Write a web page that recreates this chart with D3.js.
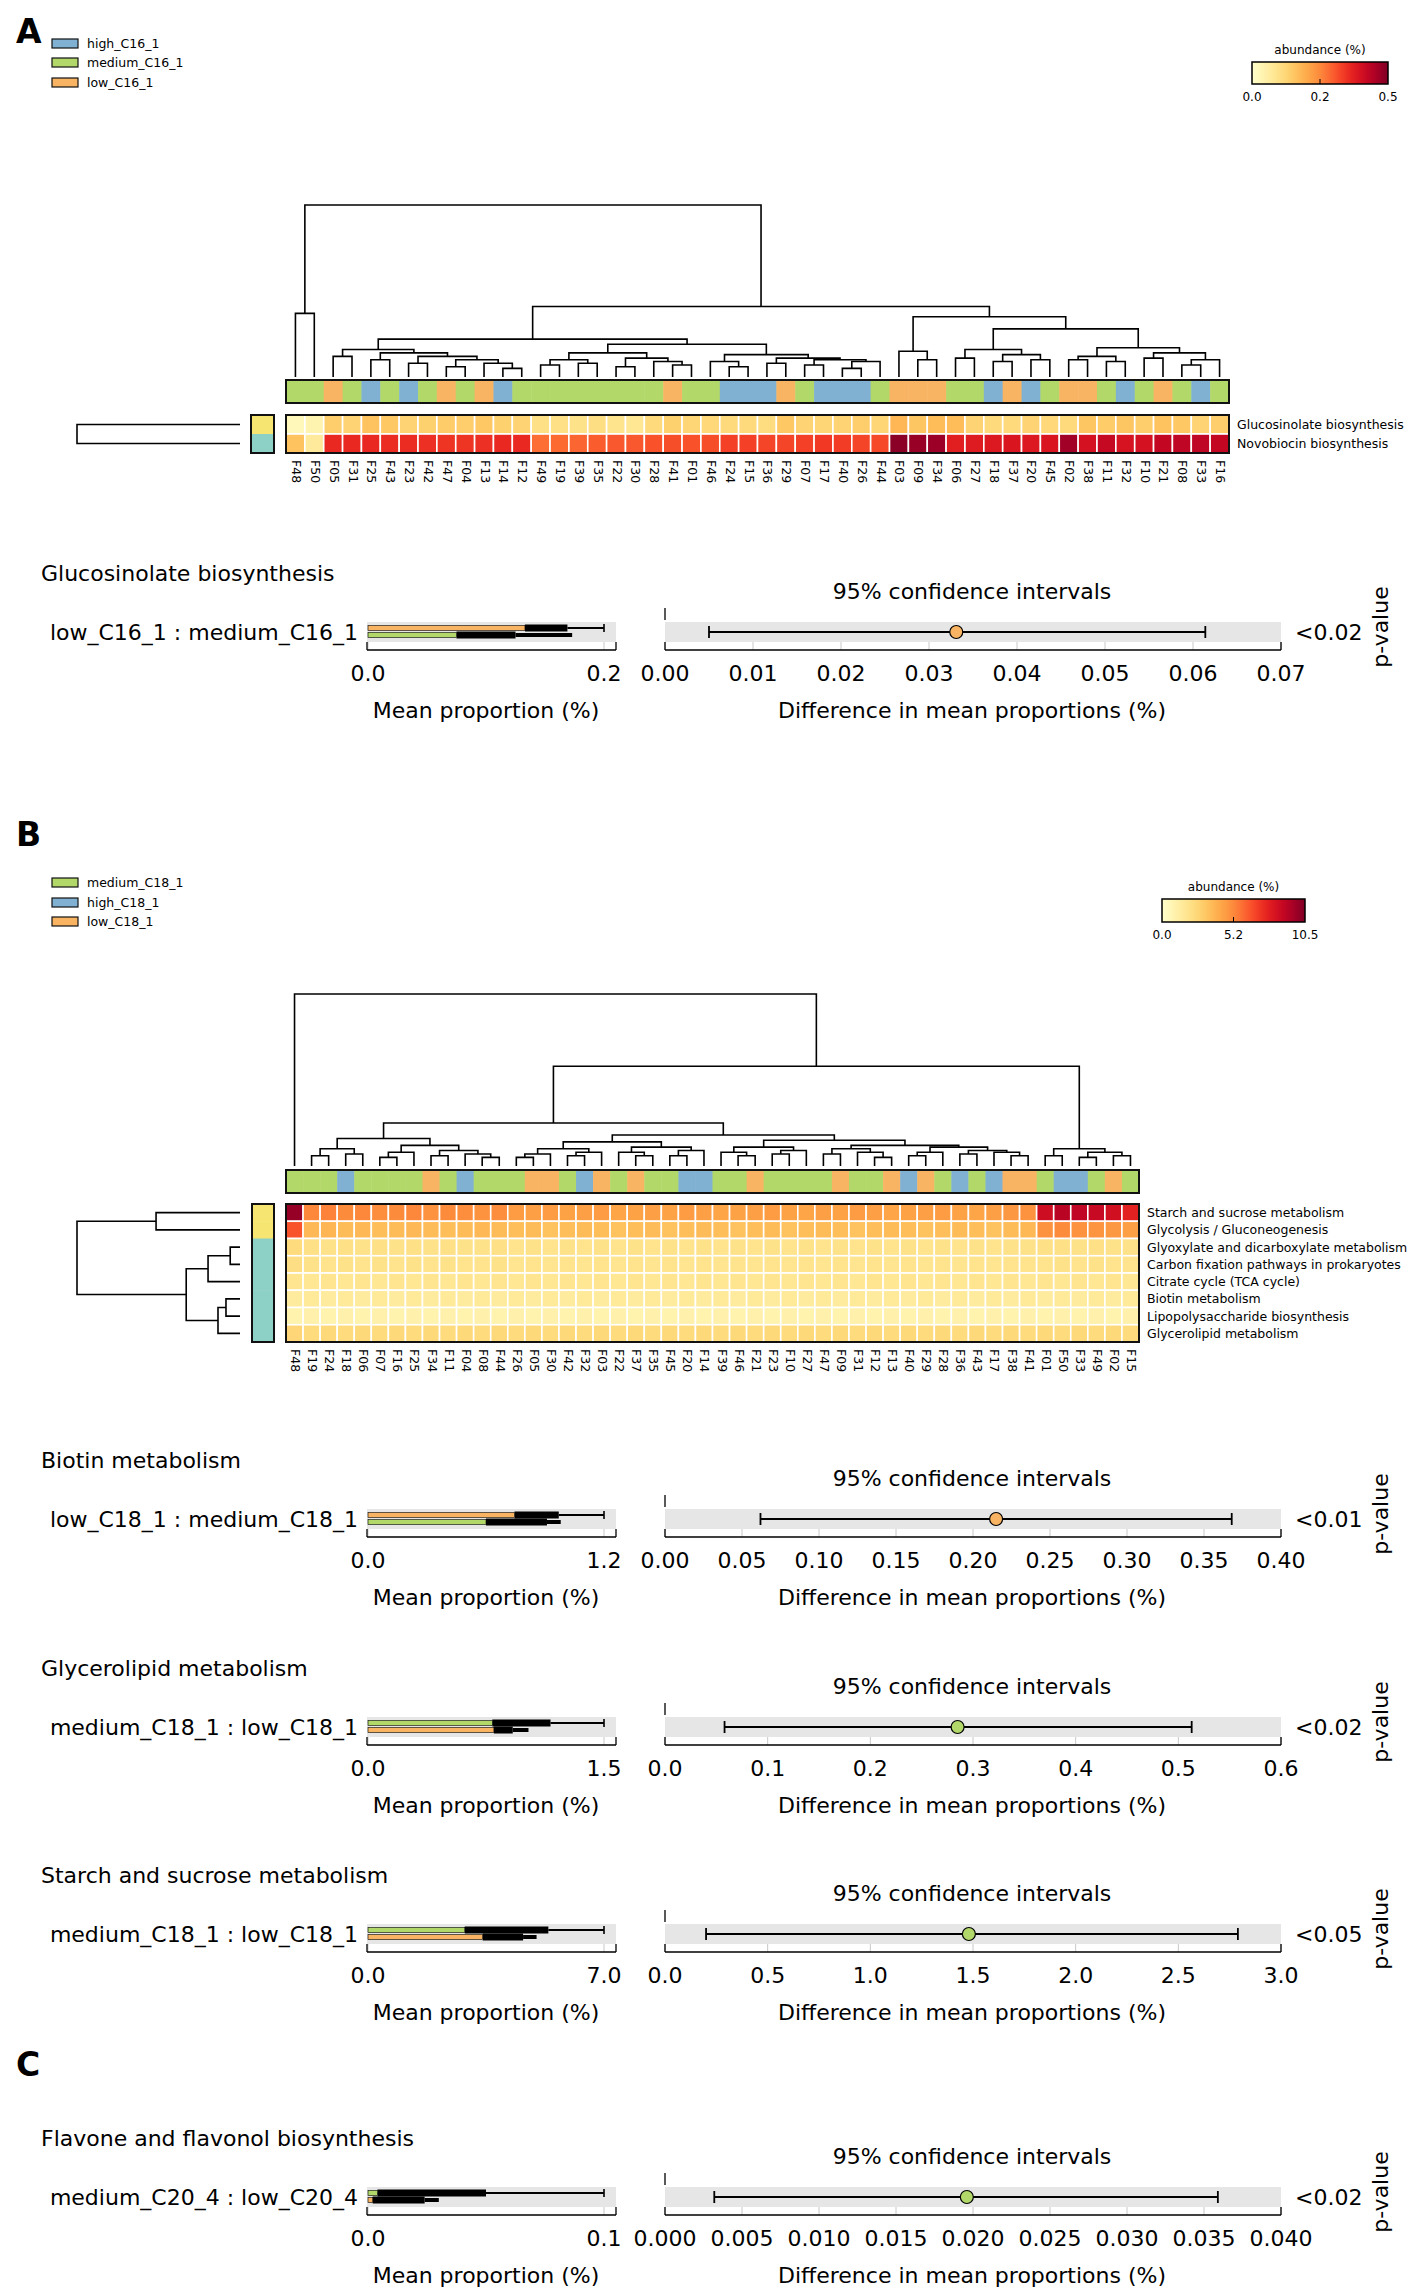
<!DOCTYPE html>
<html><head><meta charset="utf-8">
<script src="https://cdn.jsdelivr.net/npm/d3@7"></script>
<style>body{margin:0;background:#fff}text{font-family:"DejaVu Sans",sans-serif;fill:#000}</style>
</head><body><svg id="c" width="1421" height="2292"></svg>
<script>
// ---------------- DATA ----------------
const legendA = ["high_C16_1","medium_C16_1","low_C16_1"];
const legendACodes = ["h","m","l"];
const legendB = ["medium_C18_1","high_C18_1","low_C18_1"];
const legendBCodes = ["m","h","l"];

const samplesA = ["F48","F50","F05","F31","F25","F43","F23","F42","F47","F04","F13","F14","F12","F49","F19","F39","F35","F22","F30","F28","F41","F01","F46","F24","F15","F36","F29","F07","F17","F40","F26","F44","F03","F09","F34","F06","F27","F18","F37","F20","F45","F02","F38","F11","F32","F10","F21","F08","F33","F16"];
const groupA = ["m","m","l","m","h","m","h","m","l","m","l","h","m","m","m","m","m","m","m","m","l","m","m","h","h","h","l","m","h","h","h","m","l","l","l","m","m","h","l","h","m","l","l","m","h","m","l","m","h","m"];
const pathwaysA = ["Glucosinolate biosynthesis","Novobiocin biosynthesis"];
const glucosinolateA = [0.025,0.04,0.14,0.13,0.16,0.15,0.13,0.135,0.145,0.14,0.15,0.135,0.13,0.10,0.10,0.095,0.105,0.09,0.08,0.115,0.135,0.125,0.12,0.115,0.115,0.11,0.15,0.13,0.125,0.13,0.14,0.125,0.18,0.155,0.17,0.17,0.13,0.115,0.115,0.13,0.12,0.115,0.155,0.145,0.155,0.14,0.16,0.15,0.13,0.14];
const novobiocinA = [0.16,0.07,0.36,0.36,0.36,0.355,0.355,0.35,0.345,0.345,0.35,0.36,0.36,0.28,0.285,0.29,0.30,0.305,0.305,0.31,0.315,0.31,0.315,0.33,0.33,0.325,0.325,0.33,0.34,0.335,0.325,0.32,0.49,0.475,0.47,0.375,0.38,0.385,0.39,0.385,0.39,0.465,0.40,0.42,0.395,0.40,0.425,0.43,0.43,0.425];
const colorTicksA = ["0.0","0.2","0.5"];
const colorMaxA = 0.5;
// column dendrogram: [mergeHeight, left, right]
const treeA = [1.0,
  [0.37,"F48","F50"],
  [0.41,
    [0.22,
      [0.16,[0.12,"F05","F31"],[0.14,[0.10,"F25","F43"],[0.12,[0.08,"F23","F42"],[0.10,[0.06,"F47","F04"],[0.08,"F13",[0.05,"F14","F12"]]]]]],
      [0.19,
        [0.14,[0.10,[0.07,"F49","F19"],[0.08,"F39","F35"]],[0.11,[0.06,"F22","F30"],[0.09,"F28",[0.07,"F41","F01"]]]],
        [0.13,[0.09,"F46",[0.06,"F24","F15"]],[0.11,[0.08,"F36","F29"],[0.10,[0.07,"F07","F17"],[0.09,[0.05,"F40","F26"],"F44"]]]]]],
    [0.35,
      [0.15,"F03",[0.10,"F09","F34"]],
      [0.28,
        [0.16,[0.11,"F06","F27"],[0.13,[0.09,"F18","F37"],[0.10,"F20","F45"]]],
        [0.17,[0.12,[0.10,"F02","F38"],[0.09,"F11","F32"]],[0.14,[0.11,"F10","F21"],[0.10,[0.07,"F08","F33"],"F16"]]]]]]];
const rowTreeA = [1.0,"Glucosinolate biosynthesis","Novobiocin biosynthesis"];
const rowGroupA = ["y","t"];

const samplesB = ["F48","F19","F24","F18","F06","F07","F16","F25","F34","F11","F04","F08","F44","F26","F05","F30","F42","F32","F03","F22","F37","F35","F45","F20","F14","F39","F46","F21","F23","F10","F27","F47","F09","F31","F12","F13","F40","F29","F28","F36","F43","F17","F38","F41","F01","F50","F33","F49","F02","F15"];
const groupB = ["m","m","m","h","m","m","m","m","l","m","h","m","m","m","l","l","m","h","l","m","l","m","m","h","h","m","m","l","m","m","m","m","l","m","m","l","h","l","m","h","m","h","l","l","m","h","h","m","l","m"];
const pathwaysB = ["Starch and sucrose metabolism","Glycolysis / Gluconeogenesis","Glyoxylate and dicarboxylate metabolism","Carbon fixation pathways in prokaryotes","Citrate cycle (TCA cycle)","Biotin metabolism","Lipopolysaccharide biosynthesis","Glycerolipid metabolism"];
const starchB = [10.0,5.3,5.4,5.2,5.3,5.1,5.2,5.3,5.0,5.2,5.1,5.0,5.1,4.7,4.6,4.7,4.5,4.6,4.7,4.4,4.5,4.6,4.5,4.7,4.6,4.4,4.5,4.6,4.7,4.5,4.4,4.6,4.5,4.7,4.6,4.4,4.5,4.6,4.7,4.5,4.4,4.6,4.8,5.0,8.6,9.2,9.0,8.8,8.5,7.8];
const glycolysisB = [6.5,3.7,3.8,3.6,3.7,3.5,3.6,3.7,3.6,3.5,3.6,3.7,3.6,3.5,3.6,3.4,3.5,3.6,3.5,3.4,3.5,3.6,3.4,3.5,3.6,3.5,3.4,3.5,3.6,3.4,3.5,3.6,3.5,3.4,3.5,3.6,3.5,3.4,3.5,3.6,3.5,3.4,3.6,3.7,5.0,5.2,5.0,4.9,4.8,4.6];
const glyoxylateB = [2.4,2.1,2.0,2.1,2.0,2.1,2.0,2.1,2.0,2.1,2.0,2.0,2.1,1.9,2.0,1.9,2.0,1.9,2.0,1.9,2.0,1.9,2.0,1.9,2.0,1.9,2.0,1.9,2.0,1.9,2.0,1.9,2.0,1.9,2.0,1.9,2.0,1.9,2.0,1.9,2.0,1.9,2.0,2.0,2.1,2.1,2.0,2.1,2.0,2.0];
const carbonB = [2.2,2.0,1.9,2.0,1.9,2.0,1.9,2.0,1.9,2.0,1.9,1.9,2.0,1.8,1.9,1.8,1.9,1.8,1.9,1.8,1.9,1.8,1.9,1.8,1.9,1.8,1.9,1.8,1.9,1.8,1.9,1.8,1.9,1.8,1.9,1.8,1.9,1.8,1.9,1.8,1.9,1.8,1.9,1.9,1.9,2.0,1.9,2.0,1.9,1.9];
const citrateB = [1.8,1.7,1.8,1.7,1.8,1.7,1.8,1.7,1.8,1.7,1.8,1.7,1.8,1.7,1.8,1.7,1.8,1.7,1.8,1.7,1.8,1.7,1.8,1.7,1.8,1.7,1.8,1.7,1.8,1.7,1.8,1.7,1.8,1.7,1.8,1.7,1.8,1.7,1.8,1.7,1.8,1.7,1.8,1.7,1.8,1.7,1.8,1.7,1.8,1.7];
const biotinB = [1.4,1.5,1.4,1.5,1.4,1.5,1.4,1.5,1.4,1.5,1.4,1.5,1.4,1.5,1.4,1.5,1.4,1.5,1.4,1.5,1.4,1.5,1.4,1.5,1.4,1.5,1.4,1.5,1.4,1.5,1.4,1.5,1.4,1.5,1.4,1.5,1.4,1.5,1.4,1.5,1.4,1.5,1.4,1.5,1.4,1.5,1.4,1.5,1.4,1.5];
const lipopolyB = [0.9,1.0,0.9,1.0,0.9,1.0,0.9,1.0,0.9,1.0,0.9,1.0,0.9,1.0,0.9,1.0,0.9,1.0,0.9,1.0,0.9,1.0,0.9,1.0,0.9,1.0,0.9,1.0,0.9,1.0,0.9,1.0,0.9,1.0,0.9,1.0,0.9,1.0,0.9,1.0,0.9,1.0,0.9,1.0,0.9,1.0,0.9,1.0,0.9,1.0];
const glycerolipidB = [2.6,2.4,2.5,2.4,2.5,2.4,2.5,2.4,2.5,2.4,2.5,2.4,2.5,2.4,2.5,2.4,2.5,2.4,2.5,2.4,2.5,2.4,2.5,2.4,2.5,2.4,2.5,2.4,2.5,2.4,2.5,2.4,2.5,2.4,2.5,2.4,2.5,2.4,2.5,2.4,2.5,2.4,2.5,2.4,2.5,2.4,2.5,2.4,2.5,2.4];
const colorTicksB = ["0.0","5.2","10.5"];
const colorMaxB = 10.5;
const treeB = [1.0,"F48",
  [0.58,
    [0.25,
      [0.16,[0.10,[0.06,"F19","F24"],[0.07,"F18","F06"]],[0.12,[0.08,[0.05,"F07","F16"],"F25"],[0.09,[0.06,"F34","F11"],[0.07,"F04",[0.05,"F08","F44"]]]]],
      [0.18,
        [0.14,[0.10,[0.07,[0.05,"F26","F05"],"F30"],[0.08,[0.06,"F42","F32"],"F03"]],[0.11,[0.08,"F22",[0.06,"F37","F35"]],[0.09,[0.06,"F45","F20"],"F14"]]],
        [0.15,[0.11,[0.08,"F39",[0.06,"F46","F21"]],[0.09,[0.07,"F23","F10"],"F27"]],[0.12,[0.10,[0.07,"F47","F09"],[0.08,"F31",[0.05,"F12","F13"]]],[0.11,[0.08,[0.06,"F40","F29"],"F28"],[0.09,[0.07,"F36","F43"],[0.08,"F17",[0.06,"F38","F41"]]]]]]]],
    [0.10,[0.06,"F01","F50"],[0.08,[0.05,"F33","F49"],[0.06,"F02","F15"]]]]];
const rowTreeB = [1.0,
  [0.515,"Starch and sucrose metabolism","Glycolysis / Gluconeogenesis"],
  [0.33,
    [0.196,[0.06,"Glyoxylate and dicarboxylate metabolism","Carbon fixation pathways in prokaryotes"],"Citrate cycle (TCA cycle)"],
    [0.135,[0.086,"Biotin metabolism","Lipopolysaccharide biosynthesis"],"Glycerolipid metabolism"]]];
const rowGroupB = ["y","y","t","t","t","t","t","t"];

// STAMP extended error bar panels
const stampTitles = ["Glucosinolate biosynthesis","Biotin metabolism","Glycerolipid metabolism","Starch and sucrose metabolism","Flavone and flavonol biosynthesis"];
const stampPairs = ["low_C16_1 : medium_C16_1","low_C18_1 : medium_C18_1","medium_C18_1 : low_C18_1","medium_C18_1 : low_C18_1","medium_C20_4 : low_C20_4"];
const stampGroup1 = ["l","l","m","m","m"];
const stampGroup2 = ["m","m","l","l","l"];
const mean1 = [0.133,0.745,0.79,2.87,0.004];
const err1a = [0.169,0.97,1.16,5.35,0.05];
const err1b = [0.200,1.20,1.50,7.0,0.10];
const mean2 = [0.075,0.60,0.80,3.4,0.002];
const err2a = [0.125,0.91,0.92,4.6,0.024];
const err2b = [0.173,0.98,1.02,5.0,0.03];
const barTicks = [["0.0","0.2"],["0.0","1.2"],["0.0","1.5"],["0.0","7.0"],["0.0","0.1"]];
const diffMean = [0.0331,0.215,0.285,1.48,0.0196];
const ciLow = [0.005,0.062,0.058,0.2,0.0032];
const ciHigh = [0.0614,0.368,0.513,2.79,0.0359];
const ciTicks = [
  ["0.00","0.01","0.02","0.03","0.04","0.05","0.06","0.07"],
  ["0.00","0.05","0.10","0.15","0.20","0.25","0.30","0.35","0.40"],
  ["0.0","0.1","0.2","0.3","0.4","0.5","0.6"],
  ["0.0","0.5","1.0","1.5","2.0","2.5","3.0"],
  ["0.000","0.005","0.010","0.015","0.020","0.025","0.030","0.035","0.040"]];
const pValues = ["<0.02","<0.01","<0.02","<0.05","<0.02"];

// ---------------- DRAW ----------------
const svg = d3.select("#c");
const groupColor = {h:"#80b1d3", m:"#b3d86a", l:"#f8b462"};
const rowColor = {y:"#f6e671", t:"#8dd0c5"};

function layoutTree(node, pos){
  if (typeof node === "string") return {name:node, pos:pos(node), h:0};
  const a = layoutTree(node[1], pos), b = layoutTree(node[2], pos);
  return {h:node[0], pos:(a.pos+b.pos)/2, children:[a,b]};
}
function drawTree(g, tree, pos, hScale, orient){
  const root = layoutTree(tree, pos);
  const segs = [];
  (function walk(n){
    if (!n.children) return;
    const [a,b] = n.children;
    segs.push([a, b, n]);
    walk(a); walk(b);
  })(root);
  g.selectAll("path.d").data(segs).join("path")
    .attr("fill","none").attr("stroke","#000").attr("stroke-width",1.6)
    .attr("d", ([a,b,n]) => {
      if (orient === "top")
        return `M${a.pos},${hScale(a.h)}V${hScale(n.h)}H${b.pos}V${hScale(b.h)}`;
      return `M${hScale(a.h)},${a.pos}H${hScale(n.h)}V${b.pos}H${hScale(b.h)}`;
    });
}

function colorbar(x0, x1, y0, y1, maxV, labels, id){
  const cs = d3.scaleSequential(d3.interpolateYlOrRd).domain([0,1]);
  const grad = svg.append("defs").append("linearGradient").attr("id",id);
  d3.range(0,1.0001,0.05).forEach(t => grad.append("stop").attr("offset",t).attr("stop-color",cs(t)));
  svg.append("text").attr("x",(x0+x1)/2).attr("y",y0-8).attr("text-anchor","middle").attr("font-size",12).text("abundance (%)");
  svg.append("rect").attr("x",x0).attr("y",y0).attr("width",x1-x0).attr("height",y1-y0).attr("fill",`url(#${id})`).attr("stroke","#000").attr("stroke-width",1.5);
  const xm = (x0+x1)/2;
  svg.append("line").attr("x1",xm).attr("x2",xm).attr("y1",y1-5).attr("y2",y1).attr("stroke","#000");
  [x0,xm,x1].forEach((x,i)=> svg.append("text").attr("x",x).attr("y",y1+17).attr("text-anchor","middle").attr("font-size",12).text(labels[i]));
}

function legend(x, ys, names, codes){
  names.forEach((n,i)=>{
    svg.append("rect").attr("x",x).attr("y",ys[i]).attr("width",26).attr("height",9).attr("fill",groupColor[codes[i]]).attr("stroke","#111").attr("stroke-width",1.2);
    svg.append("text").attr("x",x+35).attr("y",ys[i]+9).attr("font-size",12.5).text(n);
  });
}

function heatPanel(cfg){
  const {samples, groups, pathways, rows, tree, rowTree, rowGroups, maxV, x0, x1, dTop, dBot, annY0, annY1, hmY0, hmY1} = cfg;
  const xs = d3.scaleBand().domain(samples).range([x0,x1]);
  const ys = d3.scaleBand().domain(pathways).range([hmY0,hmY1]);
  const color = d3.scaleSequential(d3.interpolateYlOrRd).domain([0,maxV]);
  const hS = d3.scaleLinear().domain([0,1]).range([dBot,dTop]);
  drawTree(svg.append("g"), tree, s => xs(s)+xs.bandwidth()/2, hS, "top");
  svg.append("g").selectAll("rect").data(samples).join("rect")
    .attr("x",s=>xs(s)).attr("y",annY0).attr("width",xs.bandwidth()+0.5).attr("height",annY1-annY0)
    .attr("fill",(s,i)=>groupColor[groups[i]]);
  svg.append("rect").attr("x",x0).attr("y",annY0).attr("width",x1-x0).attr("height",annY1-annY0).attr("fill","none").attr("stroke","#111").attr("stroke-width",2);
  const cells = [];
  pathways.forEach((p,r)=> samples.forEach((s,c)=> cells.push({p,s,v:rows[r][c]})));
  svg.append("g").selectAll("rect").data(cells).join("rect")
    .attr("x",d=>xs(d.s)).attr("y",d=>ys(d.p)).attr("width",xs.bandwidth()).attr("height",ys.bandwidth())
    .attr("fill",d=>color(d.v)).attr("stroke","#fff").attr("stroke-width",1.6);
  svg.append("rect").attr("x",x0).attr("y",hmY0).attr("width",x1-x0).attr("height",hmY1-hmY0).attr("fill","none").attr("stroke","#111").attr("stroke-width",2);
  svg.append("g").selectAll("text").data(pathways).join("text")
    .attr("x",x1+8).attr("y",p=>ys(p)+ys.bandwidth()/2).attr("dy","0.35em").attr("font-size",12.5).text(p=>p);
  svg.append("g").selectAll("text").data(samples).join("text")
    .attr("transform",s=>`translate(${xs(s)+xs.bandwidth()/2},${hmY1+7}) rotate(90)`)
    .attr("dominant-baseline","middle").attr("font-size",12.5).text(s=>s);
  svg.append("g").selectAll("rect").data(pathways).join("rect")
    .attr("x",cfg.raX0).attr("y",p=>ys(p)).attr("width",cfg.raX1-cfg.raX0).attr("height",ys.bandwidth()+0.5)
    .attr("fill",(p,i)=>rowColor[rowGroups[i]]);
  svg.append("rect").attr("x",cfg.raX0).attr("y",hmY0).attr("width",cfg.raX1-cfg.raX0).attr("height",hmY1-hmY0).attr("fill","none").attr("stroke","#111").attr("stroke-width",2);
  const rS = d3.scaleLinear().domain([0,1]).range([cfg.rdLeaf,cfg.rdRoot]);
  drawTree(svg.append("g"), rowTree, p => ys(p)+ys.bandwidth()/2, rS, "left");
}

function panelLabel(t,x,y){
  svg.append("text").attr("x",x).attr("y",y).attr("font-size",33).attr("font-weight","bold").text(t);
}

// Panel A
panelLabel("A",16,43);
legend(52,[39,58,78],legendA,legendACodes);
colorbar(1252,1388,62,84,colorMaxA,colorTicksA,"gA");
heatPanel({samples:samplesA, groups:groupA, pathways:pathwaysA, rows:[glucosinolateA,novobiocinA],
  tree:treeA, rowTree:rowTreeA, rowGroups:rowGroupA, maxV:colorMaxA,
  x0:286, x1:1229, dTop:205, dBot:377, annY0:380, annY1:403, hmY0:415, hmY1:453,
  raX0:251, raX1:274, rdLeaf:240, rdRoot:77});

// Panel B
panelLabel("B",16,846);
legend(52,[878,898,917],legendB,legendBCodes);
colorbar(1162,1305,899,922,colorMaxB,colorTicksB,"gB");
heatPanel({samples:samplesB, groups:groupB, pathways:pathwaysB,
  rows:[starchB,glycolysisB,glyoxylateB,carbonB,citrateB,biotinB,lipopolyB,glycerolipidB],
  tree:treeB, rowTree:rowTreeB, rowGroups:rowGroupB, maxV:colorMaxB,
  x0:286, x1:1139, dTop:994, dBot:1166, annY0:1170, annY1:1193, hmY0:1204, hmY1:1342,
  raX0:252, raX1:274, rdLeaf:240, rdRoot:77});

panelLabel("C",16,2076);

// STAMP panels
const bandCenters = [632,1519,1727,1934,2197];
function stamp(i){
  const c = bandCenters[i];
  const fs = 22;
  svg.append("text").attr("x",41).attr("y",c-51).attr("font-size",fs).text(stampTitles[i]);
  svg.append("text").attr("x",972).attr("y",c-33).attr("text-anchor","middle").attr("font-size",fs).text("95% confidence intervals");
  svg.append("text").attr("x",358).attr("y",c+8).attr("text-anchor","end").attr("font-size",fs).text(stampPairs[i]);
  const maxT = +barTicks[i][1];
  const bx = d3.scaleLinear().domain([0,maxT]).range([368,604]);
  const bandL = 367, bandR = 616;
  svg.append("rect").attr("x",bandL).attr("y",c-10).attr("width",bandR-bandL).attr("height",20).attr("fill","#e6e6e6");
  [0,maxT].forEach(v=> svg.append("line").attr("x1",bx(v)).attr("x2",bx(v)).attr("y1",c+10).attr("y2",c+18).attr("stroke","#c8c8c8").attr("stroke-width",1));
  svg.append("line").attr("x1",bandL).attr("x2",bandR).attr("y1",c+18).attr("y2",c+18).attr("stroke","#000").attr("stroke-width",1.3);
  [bandL,bandR].forEach(x=> svg.append("line").attr("x1",x).attr("x2",x).attr("y1",c+10).attr("y2",c+18).attr("stroke","#000").attr("stroke-width",1.3));
  barTicks[i].forEach(t=> svg.append("text").attr("x",bx(+t)).attr("y",c+49).attr("text-anchor","middle").attr("font-size",fs).text(t));
  svg.append("text").attr("x",(bx(0)+bx(maxT))/2).attr("y",c+86).attr("text-anchor","middle").attr("font-size",fs).text("Mean proportion (%)");
  const yT = c-4, yB = c+3;
  svg.append("line").attr("x1",bx(err1a[i])).attr("x2",bx(err1b[i])).attr("y1",yT).attr("y2",yT).attr("stroke","#000").attr("stroke-width",2);
  svg.append("line").attr("x1",bx(err1b[i])).attr("x2",bx(err1b[i])).attr("y1",yT-4).attr("y2",yT+4).attr("stroke","#000").attr("stroke-width",1.6);
  svg.append("rect").attr("x",bx(mean1[i])).attr("y",yT-3.5).attr("width",bx(err1a[i])-bx(mean1[i])).attr("height",7).attr("fill","#000");
  svg.append("rect").attr("x",bx(0)).attr("y",yT-2.5).attr("width",bx(mean1[i])-bx(0)).attr("height",5).attr("fill",groupColor[stampGroup1[i]]).attr("stroke","#000").attr("stroke-width",0.6);
  svg.append("rect").attr("x",bx(err2a[i])).attr("y",yB-2).attr("width",bx(err2b[i])-bx(err2a[i])).attr("height",4).attr("fill","#000");
  svg.append("rect").attr("x",bx(mean2[i])).attr("y",yB-3.5).attr("width",bx(err2a[i])-bx(mean2[i])).attr("height",7).attr("fill","#000");
  svg.append("rect").attr("x",bx(0)).attr("y",yB-2.5).attr("width",bx(mean2[i])-bx(0)).attr("height",5).attr("fill",groupColor[stampGroup2[i]]).attr("stroke","#000").attr("stroke-width",0.6);
  const ticks = ciTicks[i];
  const cx = d3.scaleLinear().domain([+ticks[0], +ticks[ticks.length-1]]).range([665,1281]);
  svg.append("rect").attr("x",665).attr("y",c-10).attr("width",616).attr("height",20).attr("fill","#e6e6e6");
  ticks.forEach(t=> svg.append("line").attr("x1",cx(+t)).attr("x2",cx(+t)).attr("y1",c+10).attr("y2",c+18).attr("stroke","#c8c8c8").attr("stroke-width",1));
  svg.append("line").attr("x1",665).attr("x2",1281).attr("y1",c+18).attr("y2",c+18).attr("stroke","#000").attr("stroke-width",1.3);
  [665,1281].forEach(x=> svg.append("line").attr("x1",x).attr("x2",x).attr("y1",c+10).attr("y2",c+18).attr("stroke","#000").attr("stroke-width",1.3));
  svg.append("line").attr("x1",665).attr("x2",665).attr("y1",c-24).attr("y2",c-12).attr("stroke","#000").attr("stroke-width",1.3);
  ticks.forEach(t=> svg.append("text").attr("x",cx(+t)).attr("y",c+49).attr("text-anchor","middle").attr("font-size",fs).text(t));
  svg.append("text").attr("x",972).attr("y",c+86).attr("text-anchor","middle").attr("font-size",fs).text("Difference in mean proportions (%)");
  svg.append("line").attr("x1",cx(ciLow[i])).attr("x2",cx(ciHigh[i])).attr("y1",c).attr("y2",c).attr("stroke","#000").attr("stroke-width",2.2);
  [ciLow[i],ciHigh[i]].forEach(v=> svg.append("line").attr("x1",cx(v)).attr("x2",cx(v)).attr("y1",c-6).attr("y2",c+6).attr("stroke","#000").attr("stroke-width",1.8));
  svg.append("circle").attr("cx",cx(diffMean[i])).attr("cy",c).attr("r",6.5).attr("fill",groupColor[stampGroup1[i]]).attr("stroke","#000").attr("stroke-width",1.2);
  svg.append("text").attr("x",1295).attr("y",c+8).attr("font-size",fs).text(pValues[i]);
  svg.append("text").attr("transform",`translate(1382,${c-5}) rotate(-90)`).attr("text-anchor","middle").attr("dominant-baseline","middle").attr("font-size",fs).text("p-value");
}
stampTitles.forEach((t,i)=>stamp(i));
</script></body></html>
